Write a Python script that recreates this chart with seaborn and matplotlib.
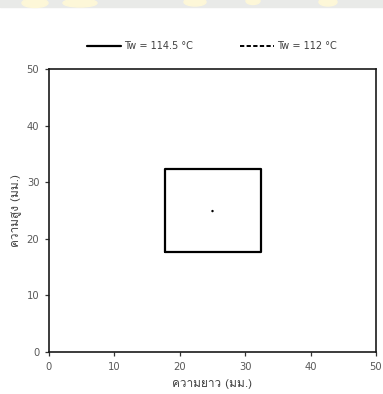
import matplotlib
matplotlib.use("Agg")
import matplotlib.pyplot as plt
from matplotlib import font_manager
from matplotlib.ft2font import FT2Font
from matplotlib.lines import Line2D
from matplotlib.patches import Rectangle, Ellipse
import seaborn as sns
import pandas as pd

# Isotherm outlines in the cross-section (mm)
hot_x = [17.8, 32.4, 32.4, 17.8, 17.8]
hot_y = [17.7, 17.7, 32.3, 32.3, 17.7]
cool_x = [25.0]
cool_y = [24.9]
series_labels = ["Tw = 114.5 °C", "Tw = 112 °C"]
ticks = [0, 10, 20, 30, 40, 50]
xlabel = "ความยาว (มม.)"
ylabel = "ความสูง (มม.)"


def thai_font():
    for f in font_manager.fontManager.ttflist:
        try:
            cm = FT2Font(f.fname).get_charmap()
        except Exception:
            continue
        if ord("ค") in cm and ord("ม") in cm:
            return f.name
    return "DejaVu Sans"


sns.set_style("white")
thai = thai_font()
plt.rcParams["font.family"] = ["DejaVu Sans"]

df_hot = pd.DataFrame({"x": hot_x, "y": hot_y, "order": range(len(hot_x))})
df_cool = pd.DataFrame({"x": cool_x, "y": cool_y})

W, H = 383, 394
fig = plt.figure(figsize=(W / 100, H / 100), dpi=100)
ax = fig.add_axes([49 / W, 42 / H, 327 / W, 283 / H])

sns.lineplot(data=df_hot, x="x", y="y", sort=False, estimator=None,
             color="black", lw=1.6, ax=ax)
sns.scatterplot(data=df_cool, x="x", y="y", color="black", s=3,
                edgecolor="none", ax=ax)

ax.set_xlim(0, 50)
ax.set_ylim(0, 50)
ax.set_xticks(ticks)
ax.set_yticks(ticks)
ax.tick_params(axis="both", direction="out", length=3, width=0.9,
               color="#333333", labelsize=7.2, labelcolor="#595959", pad=4,
               bottom=True, left=True)
for s in ax.spines.values():
    s.set_color("#1a1a1a")
    s.set_linewidth(1.2)
ax.set_xlabel(xlabel, family=[thai, "DejaVu Sans"], fontsize=8.5,
              color="#404040", labelpad=5)
ax.set_ylabel(ylabel, family=[thai, "DejaVu Sans"], fontsize=8.5,
              color="#404040", labelpad=4)

handles = [Line2D([], [], color="black", lw=1.6, ls="-"),
           Line2D([], [], color="black", lw=1.4, ls=(0, (2.2, 1.2)))]
fig.legend(handles, series_labels, loc="center",
           bbox_to_anchor=(212 / W, 1 - 46 / H),
           ncol=2, frameon=False, fontsize=7, handlelength=3.5,
           handletextpad=0.3, columnspacing=4.8, labelcolor="#404040")

# header strip at the very top of the page
fig.patches.append(Rectangle((0, 1 - 7 / H), 1, 7 / H,
                             transform=fig.transFigure, color="#e9eae8",
                             zorder=0))
for cx, cy, w, h in [(35, 3, 26, 9), (80, 3, 34, 8), (195, 2, 22, 8),
                     (253, 1, 14, 7), (328, 2, 18, 8)]:
    fig.patches.append(Ellipse((cx / W, 1 - cy / H), w / W, h / H,
                               transform=fig.transFigure, color="#fdf7d8",
                               zorder=0))

fig.savefig("out.png", dpi=100)
